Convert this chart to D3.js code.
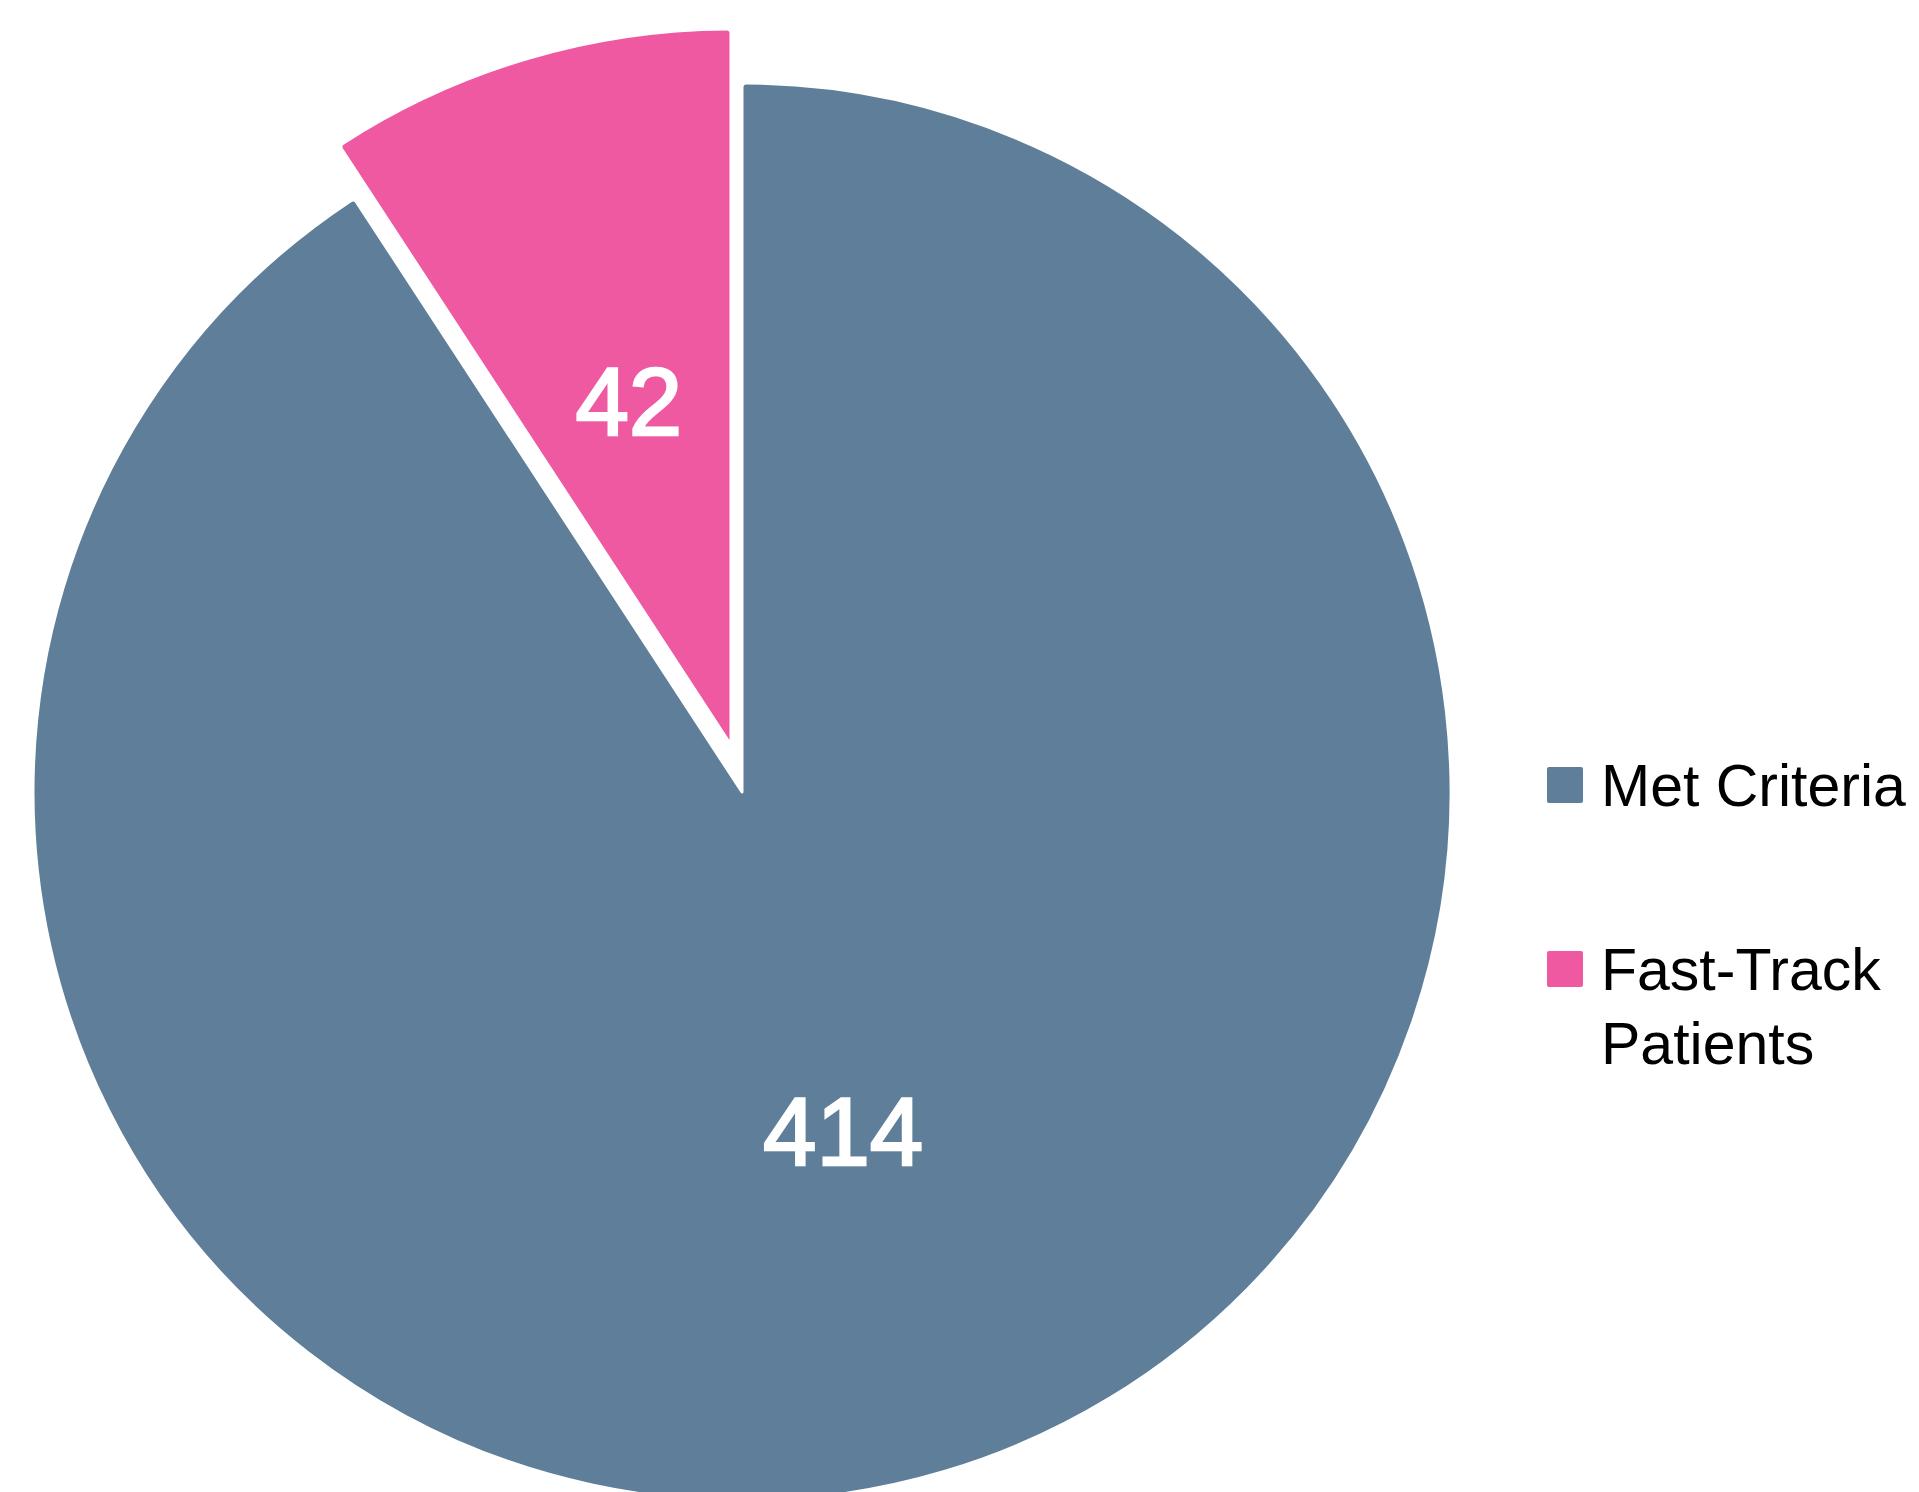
<!DOCTYPE html>
<html>
<head>
<meta charset="utf-8">
<script src="https://cdn.jsdelivr.net/npm/d3@7"></script>
<style>
  body { margin: 0; background: #fff; }
  svg { display: block; font-family: "Liberation Sans", Arial, sans-serif; }
</style>
</head>
<body>
<svg id="pie" width="1919" height="1492"></svg>
<script>
/*global d3*/

const categories = ["Met Criteria", "Fast-Track Patients"];
const values = [414, 42];

const colors = {
    "Met Criteria": "#5F7E99",
    "Fast-Track Patients": "#EF59A1"
};

// pie geometry
const center = { x: 742, y: 792 };
const radius = 709;
// pulled-out slice: shift and slightly bigger radius
const explode = { "Fast-Track Patients": { dx: -11, dy: -47, grow: 7 } };

const data = categories.map((c, i) => ({ name: c, value: values[i] }));

const svg = d3.select("#pie");

const pie = d3.pie()
    .sort(null)
    .value(d => d.value);

const outer = d => radius + ((explode[d.data.name] || {}).grow || 0);

const arc = d3.arc()
    .innerRadius(0)
    .outerRadius(outer)
    .cornerRadius(4);

const labelArc = d3.arc()
    .innerRadius(0)
    .outerRadius(outer);

const slices = svg.append("g")
    .attr("transform", `translate(${center.x}, ${center.y})`)
    .selectAll(".slice")
    .data(pie(data))
    .enter()
    .append("g")
    .attr("class", "slice")
    .attr("transform", d => {
        const e = explode[d.data.name] || { dx: 0, dy: 0 };
        return `translate(${e.dx}, ${e.dy})`;
    });

slices.append("path")
    .attr("d", arc)
    .attr("fill", d => colors[d.data.name])
    .attr("stroke", "#fff")
    .attr("stroke-width", 3)
    .attr("stroke-linejoin", "round");

// medium weight look: regular face with a thin white outline
slices.append("text")
    .attr("transform", d => `translate(${labelArc.centroid(d)})`)
    .attr("text-anchor", "middle")
    .attr("dy", "0.35em")
    .style("font-size", "96px")
    .style("fill", "#fff")
    .style("stroke", "#fff")
    .style("stroke-width", 2.5)
    .text(d => d.data.value);

// legend
const legend = svg.append("g")
    .attr("class", "legend")
    .attr("transform", "translate(1547, 767)");

const maxTextWidth = 1919 - 1601 - 4;
const lineHeight = 74;

const items = legend.selectAll(".item")
    .data(categories)
    .enter()
    .append("g")
    .attr("class", "item")
    .attr("transform", (d, i) => `translate(0, ${i * 184})`);

items.append("rect")
    .attr("width", 36)
    .attr("height", 36)
    .attr("rx", 2)
    .attr("fill", d => colors[d]);

items.append("text")
    .attr("x", 54)
    .attr("y", 18)
    .style("font-size", "59px")
    .style("fill", "#000")
    .each(function (d) {
        const text = d3.select(this);
        const words = d.split(" ");
        let line = [];
        let tspan = text.append("tspan").attr("x", 54).attr("dy", "0.36em");
        words.forEach(w => {
            line.push(w);
            tspan.text(line.join(" "));
            if (tspan.node().getComputedTextLength() > maxTextWidth && line.length > 1) {
                line.pop();
                tspan.text(line.join(" "));
                line = [w];
                tspan = text.append("tspan")
                    .attr("x", 54)
                    .attr("dy", lineHeight)
                    .text(w);
            }
        });
    });
</script>
</body>
</html>
